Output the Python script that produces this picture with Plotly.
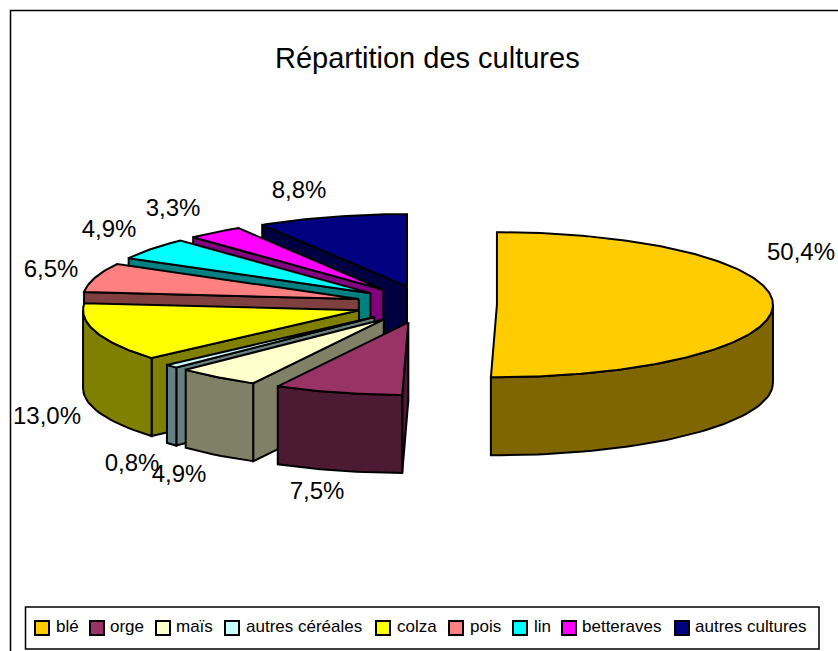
import math
import plotly.graph_objects as go

# ---- data
categories = ["blé", "orge", "maïs", "autres céréales", "colza", "pois", "lin", "betteraves", "autres cultures"]
shares = [50.4, 7.5, 4.9, 0.8, 13.0, 6.5, 4.9, 3.3, 8.8]
top_colors = ["#FFCC00", "#993366", "#FFFFCC", "#CCFFFF", "#FFFF00", "#FF8080", "#00FFFF", "#FF00FF", "#000080"]
side_colors = ["#806600", "#4D1A33", "#808066", "#668080", "#808000", "#804040", "#008080", "#800080", "#000040"]

# ---- style / layout constants (pixel space of the page)
W, H = 838, 651
CX, CY, RX, RY, DEPTH, EXPLODE = 426.3, 304.5, 276, 72.5, 78, 0.256
FONT = "Liberation Sans, Arial, sans-serif"
LABEL_XY = [(801, 254), (317, 493), (179, 476), (132, 465), (47, 418), (51, 271), (109, 231), (173, 210), (299, 192)]
LEGEND_SWATCH_X = [42, 97, 163, 232, 383, 456, 520, 569, 682]
LEGEND_TEXT_X = [56, 110, 176, 246, 397, 470, 534, 582, 695]
LEGEND_SWATCH_Y = 628
LEGEND_TEXT_Y = 627.5

fig = go.Figure()

def poly(xs, ys, color):
    fig.add_trace(go.Scatter(
        x=xs + xs[:1], y=ys + ys[:1], mode="lines", fill="toself", fillcolor=color,
        line=dict(color="black", width=2), hoverinfo="skip", showlegend=False))

def pt(c, th):
    return (c[0] + RX * math.sin(th), c[1] - RY * math.cos(th))

total = sum(shares)
starts, acc = [], 0.0
for v in shares:
    starts.append(acc)
    acc += v

for i in reversed(range(len(shares))):
    t0 = starts[i] / total * 2 * math.pi
    t1 = (starts[i] + shares[i]) / total * 2 * math.pi
    mid = (t0 + t1) / 2
    tip = (CX + EXPLODE * RX * math.sin(mid), CY - EXPLODE * RY * math.cos(mid))
    n = max(6, int(shares[i] * 4))
    arc = [t0 + (t1 - t0) * k / n for k in range(n + 1)]
    p0, p1 = pt(tip, t0), pt(tip, t1)
    # radial walls facing the viewer
    for a, b in ((tip, p0), (p1, tip)):
        if b[0] < a[0] - 0.01:
            poly([a[0], b[0], b[0], a[0]], [a[1], b[1], b[1] + DEPTH, a[1] + DEPTH], side_colors[i])
    # outer wall, front half only
    lo, hi = max(t0, math.pi / 2), min(t1, 3 * math.pi / 2)
    if hi > lo:
        m = max(4, int((hi - lo) * 30))
        ts = [lo + (hi - lo) * k / m for k in range(m + 1)]
        top = [pt(tip, t) for t in ts]
        xs = [p[0] for p in top] + [p[0] for p in reversed(top)]
        ys = [p[1] for p in top] + [p[1] + DEPTH for p in reversed(top)]
        poly(xs, ys, side_colors[i])
    # top face
    pts = [tip] + [pt(tip, t) for t in arc]
    poly([p[0] for p in pts], [p[1] for p in pts], top_colors[i])

# data labels
fig.add_trace(go.Scatter(
    x=[p[0] for p in LABEL_XY], y=[p[1] for p in LABEL_XY], mode="text",
    text=[f"{v:.1f}%".replace(".", ",") for v in shares],
    textposition="middle center", textfont=dict(family=FONT, size=24, color="black"),
    hoverinfo="skip", showlegend=False, cliponaxis=False))

# legend row
fig.add_trace(go.Scatter(
    x=LEGEND_SWATCH_X, y=[LEGEND_SWATCH_Y] * len(categories), mode="markers",
    marker=dict(symbol="square", size=14, color=top_colors, line=dict(color="black", width=2)),
    hoverinfo="skip", showlegend=False))
fig.add_trace(go.Scatter(
    x=LEGEND_TEXT_X, y=[LEGEND_TEXT_Y] * len(categories), mode="text",
    text=categories, textposition="middle right",
    textfont=dict(family=FONT, size=17, color="black"),
    hoverinfo="skip", showlegend=False, cliponaxis=False))

fig.update_layout(
    width=W, height=H, margin=dict(l=0, r=0, t=0, b=0),
    paper_bgcolor="white", plot_bgcolor="white", showlegend=False,
    xaxis=dict(range=[0, W], visible=False, fixedrange=True),
    yaxis=dict(range=[H, 0], visible=False, fixedrange=True),
    shapes=[
        dict(type="rect", xref="x", yref="y", x0=10.5, y0=10.5, x1=860, y1=680,
             line=dict(color="black", width=1.5), layer="below"),
        dict(type="rect", xref="x", yref="y", x0=25.5, y0=607, x1=819, y1=649,
             line=dict(color="black", width=1.5), layer="below"),
    ],
    annotations=[dict(text="Répartition des cultures", xref="x", yref="y", x=427, y=58,
                      showarrow=False, font=dict(family=FONT, size=29, color="black"))],
)
fig.write_html("out.html", config={"displayModeBar": False},
               post_script="document.body.style.margin='0';document.documentElement.style.overflow='hidden';")
